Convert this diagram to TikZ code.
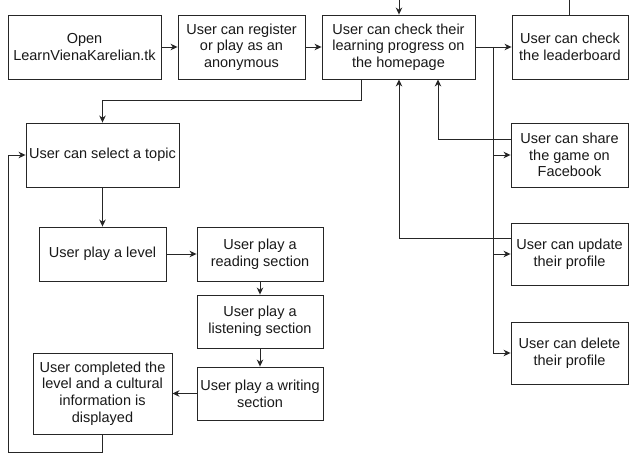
\documentclass[tikz,border=0pt]{standalone}
\usepackage{fontspec}
\setmainfont{Liberation Sans}
\usetikzlibrary{arrows.meta}
\begin{document}
\begin{tikzpicture}[x=1pt,y=-1pt,
  box/.style={draw=black!85,line width=0.9pt,align=center,inner sep=0pt,
    font=\fontsize{14.5}{16.7}\selectfont,text=black!90},
  conn/.style={draw=black!85,line width=0.9pt},
  arr/.style={conn,-{Stealth[length=7pt,width=6.5pt,inset=2.2pt]}}]
\fill[white] (0,0) rectangle (633,457);
\useasboundingbox (0,0) rectangle (633,457);
% nodes
\node[box,minimum width=153pt,minimum height=64pt] (b1) at (84.5,47) {Open\\LearnVienaKarelian.tk};
\node[box,minimum width=127pt,minimum height=64pt] (b2) at (241.5,47) {User can register\\or play as an\\anonymous};
\node[box,minimum width=153pt,minimum height=64pt] (b3) at (398.5,47) {User can check their\\learning progress on\\the homepage};
\node[box,minimum width=116pt,minimum height=64pt] (b4) at (570,47) {User can check\\the leaderboard};
\node[box,minimum width=117pt,minimum height=64pt] (share) at (569.5,155) {User can share\\the game on\\Facebook};
\node[box,minimum width=117pt,minimum height=62pt] (update) at (569.5,254) {User can update\\their profile};
\node[box,minimum width=117pt,minimum height=62pt] (delete) at (569.5,353) {User can delete\\their profile};
\node[box,minimum width=153pt,minimum height=64pt] (topic) at (102.5,155) {User can select a topic};
\node[box,minimum width=127pt,minimum height=54pt] (level) at (102.5,254) {User play a level};
\node[box,minimum width=126pt,minimum height=54pt] (reading) at (260,254) {User play a\\reading section};
\node[box,minimum width=126pt,minimum height=53pt] (listening) at (260,321.5) {User play a\\listening section};
\node[box,minimum width=126pt,minimum height=53pt] (writing) at (260,393.5) {User play a writing\\section};
\node[box,minimum width=139pt,minimum height=81pt] (completed) at (102.5,393.5) {User completed the\\level and a cultural\\information is\\displayed};
% free ends and bends
\coordinate (topin) at (399,0);
\coordinate (topout) at (569,0);
\coordinate (trunk) at (493,47);
\coordinate (trunkend) at (493,353);
\coordinate (jA) at (361,100);
\coordinate (loop) at (8,452);
% connectors
\draw[arr] (topin) -- ([xshift=0.5pt]b3.north);
\draw[conn] (topout) -- ([xshift=-1pt]b4.north);
\draw[arr] (b1) -- (b2);
\draw[arr] (b2) -- (b3);
\draw[arr] (b3) -- (b4);
\draw[conn] (trunk) -- (trunkend);
\draw[arr] (trunkend) -- (delete.west);
\draw[arr] (trunk |- share.west) -- (share.west);
\draw[arr] (trunk |- update.west) -- (update.west);
\draw[arr] ([yshift=16pt]share.west) -| ([xshift=39.5pt]b3.south);
\draw[arr] ([yshift=16pt]update.west) -| ([xshift=0.5pt]b3.south);
\draw[arr] ([xshift=-37.5pt]b3.south) -- (jA) -| (topic.north);
\draw[arr] (topic) -- (level);
\draw[arr] (level) -- (reading);
\draw[arr] (reading) -- (listening);
\draw[arr] (listening) -- (writing);
\draw[arr] (writing) -- (completed);
\draw[arr] (completed.south) |- (loop) |- (topic.west);
\end{tikzpicture}
\end{document}
